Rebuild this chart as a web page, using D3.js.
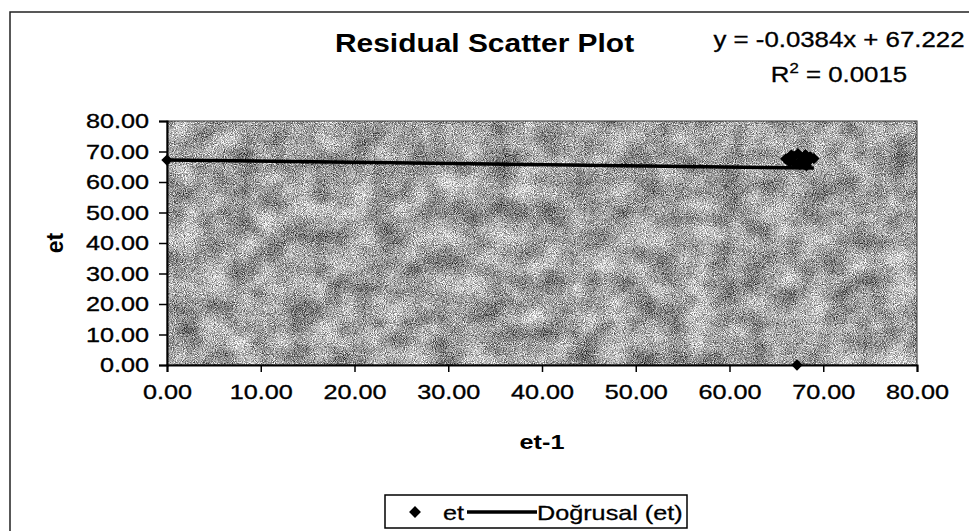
<!DOCTYPE html>
<html>
<head>
<meta charset="utf-8">
<script src="https://cdn.jsdelivr.net/npm/d3@7"></script>
<style>
  body { margin: 0; background: #fff; }
  svg { display: block; font-family: "Liberation Sans", Arial, sans-serif; }
</style>
</head>
<body>
<div id="chart"></div>
<script>
// data: lagged residual vs residual
const etPrev = [0, 67.2, 66.0, 66.4, 66.9, 67.3, 67.7, 68.1, 68.6, 69.0, 67.0, 68.3, 66.6, 68.2, 67.5];
const et = [67.2, 0, 67.6, 66.5, 68.4, 69.3, 67.2, 69.0, 68.3, 67.7, 66.0, 66.4, 68.9, 65.4, 65.8];
// trendline as printed on the chart
const trendSlope = -0.0384;
const trendIntercept = 67.222;
const trendLabel = 'y = -0.0384x + 67.222';
const r2Value = '0.0015';
const xTicks = [0, 10, 20, 30, 40, 50, 60, 70, 80];
const yTicks = [0, 10, 20, 30, 40, 50, 60, 70, 80];

const width = 969;
const height = 531;
const plot = { left: 167, right: 917, top: 121, bottom: 365 };
// the scan widened every bit of text a little
const stretchK = 1.2;

const svg = d3.select('#chart')
  .append('svg')
  .attr('width', width)
  .attr('height', height);

// widen text in place via textLength (keeps anchors working)
function stretch(sel, k) {
  sel.each(function () {
    const len = this.getComputedTextLength();
    d3.select(this)
      .attr('textLength', len * k)
      .attr('lengthAdjust', 'spacingAndGlyphs');
  });
}

// scanned-paper grain for the plot area
const defs = svg.append('defs');
const filter = defs.append('filter')
  .attr('id', 'grain')
  .attr('x', 0).attr('y', 0).attr('width', '100%').attr('height', '100%')
  .attr('color-interpolation-filters', 'sRGB');
filter.append('feTurbulence')
  .attr('type', 'fractalNoise').attr('baseFrequency', 1.1)
  .attr('numOctaves', 1).attr('seed', 4).attr('result', 'fine');
filter.append('feColorMatrix').attr('in', 'fine').attr('type', 'matrix')
  .attr('values', '1 0 0 0 0 1 0 0 0 0 1 0 0 0 0 0 0 0 0 1').attr('result', 'fineG');
filter.append('feTurbulence')
  .attr('type', 'fractalNoise').attr('baseFrequency', '0.035 0.04')
  .attr('numOctaves', 2).attr('seed', 11).attr('result', 'coarse');
filter.append('feColorMatrix').attr('in', 'coarse').attr('type', 'matrix')
  .attr('values', '1 0 0 0 0 1 0 0 0 0 1 0 0 0 0 0 0 0 0 1').attr('result', 'coarseG');
filter.append('feComposite')
  .attr('in', 'fineG').attr('in2', 'coarseG').attr('operator', 'arithmetic')
  .attr('k1', 0).attr('k2', 1.5).attr('k3', 0.6).attr('k4', -0.42);

// outer frame (only left and top visible in the scan)
svg.append('path')
  .attr('d', `M10,${height} V12 H${width}`)
  .attr('fill', 'none')
  .attr('stroke', '#222')
  .attr('stroke-width', 1.5);

const x = d3.scaleLinear().domain([0, 80]).range([plot.left, plot.right]);
const y = d3.scaleLinear().domain([0, 80]).range([plot.bottom, plot.top]);

svg.append('rect')
  .attr('x', plot.left).attr('y', plot.top)
  .attr('width', plot.right - plot.left)
  .attr('height', plot.bottom - plot.top)
  .attr('fill', '#9a9a9a')
  .attr('filter', 'url(#grain)');
svg.append('rect')
  .attr('x', plot.left).attr('y', plot.top)
  .attr('width', plot.right - plot.left)
  .attr('height', plot.bottom - plot.top)
  .attr('fill', 'none')
  .attr('stroke', '#333')
  .attr('stroke-width', 1);

const fmt = d3.format('.2f');

const xAxis = svg.append('g')
  .attr('transform', `translate(0,${plot.bottom})`)
  .call(d3.axisBottom(x).tickValues(xTicks).tickFormat(fmt).tickSize(7).tickPadding(12));
const yAxis = svg.append('g')
  .attr('transform', `translate(${plot.left},0)`)
  .call(d3.axisLeft(y).tickValues(yTicks).tickFormat(fmt).tickSize(8).tickPadding(10));

[xAxis, yAxis].forEach((ax) => {
  ax.select('.domain').attr('stroke', '#000').attr('stroke-width', 2);
  ax.selectAll('.tick line').attr('stroke', '#000').attr('stroke-width', 1.5);
  ax.selectAll('text')
    .attr('fill', '#000')
    .attr('stroke', '#000')
    .attr('stroke-width', 0.35)
    .style('font-family', '"Liberation Sans", Arial, sans-serif')
    .style('font-size', '21px')
    .call(stretch, stretchK);
});
xAxis.selectAll('text').attr('dy', '0.71em');

// trendline across the range of the data
const xMax = d3.max(etPrev);
const trend = [0, xMax].map((v) => [v, trendSlope * v + trendIntercept]);
svg.append('path')
  .datum(trend)
  .attr('d', d3.line().x((d) => x(d[0])).y((d) => y(d[1])))
  .attr('fill', 'none')
  .attr('stroke', '#000')
  .attr('stroke-width', 3.5);

const diamond = d3.symbol().type(d3.symbolSquare).size(64);
svg.append('g')
  .selectAll('path')
  .data(etPrev.map((v, i) => [v, et[i]]))
  .join('path')
  .attr('d', diamond)
  .attr('transform', (d) => `translate(${x(d[0])},${y(d[1])}) rotate(45)`)
  .attr('fill', '#000');

// titles
svg.append('text')
  .attr('x', 335).attr('y', 52)
  .attr('font-size', 26).attr('font-weight', 'bold')
  .text('Residual Scatter Plot')
  .call(stretch, 1.15);

// trendline label: two centred lines
const labelX = 839;
svg.append('text')
  .attr('x', labelX).attr('y', 47)
  .attr('text-anchor', 'middle')
  .attr('font-size', 21.5)
  .attr('stroke', '#000').attr('stroke-width', 0.3)
  .text(trendLabel)
  .call(stretch, stretchK);

const r2 = svg.append('text')
  .attr('x', labelX).attr('y', 82)
  .attr('text-anchor', 'middle')
  .attr('font-size', 21.5)
  .attr('stroke', '#000').attr('stroke-width', 0.3);
r2.append('tspan').text('R');
r2.append('tspan').attr('dy', -9).attr('font-size', 14).text('2');
r2.append('tspan').attr('dy', 9).text(' = ' + r2Value);
r2.call(stretch, stretchK);

svg.append('text')
  .attr('x', (plot.left + plot.right) / 2).attr('y', 449)
  .attr('text-anchor', 'middle')
  .attr('font-size', 21).attr('font-weight', 'bold')
  .text('et-1')
  .call(stretch, stretchK);

svg.append('text')
  .attr('transform', `translate(63,${(plot.top + plot.bottom) / 2}) rotate(-90)`)
  .attr('text-anchor', 'middle')
  .attr('font-size', 23).attr('font-weight', 'bold')
  .text('et');

// legend
const legend = svg.append('g').attr('transform', 'translate(385,495)');
legend.append('rect')
  .attr('width', 302).attr('height', 33)
  .attr('fill', '#fff')
  .attr('stroke', '#000')
  .attr('stroke-width', 1.5);
legend.append('path')
  .attr('d', d3.symbol().type(d3.symbolSquare).size(70))
  .attr('transform', 'translate(30,17) rotate(45)')
  .attr('fill', '#000');
legend.append('text')
  .attr('x', 58).attr('y', 25)
  .attr('font-size', 21)
  .attr('stroke', '#000').attr('stroke-width', 0.3)
  .text('et')
  .call(stretch, stretchK);
legend.append('line')
  .attr('x1', 82).attr('x2', 152)
  .attr('y1', 17).attr('y2', 17)
  .attr('stroke', '#000').attr('stroke-width', 3.5);
legend.append('text')
  .attr('x', 152).attr('y', 25)
  .attr('font-size', 21)
  .attr('stroke', '#000').attr('stroke-width', 0.3)
  .text('Doğrusal (et)')
  .call(stretch, stretchK);
</script>
</body>
</html>
